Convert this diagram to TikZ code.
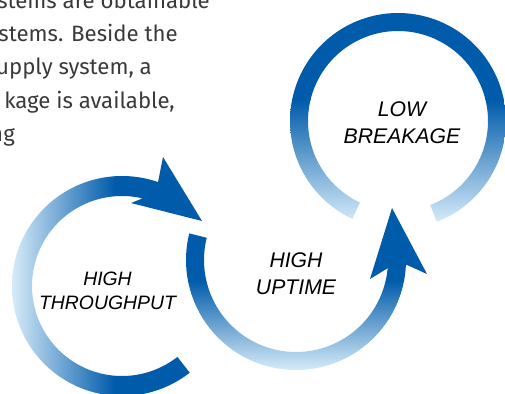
\documentclass[tikz,border=0pt]{standalone}
\usepackage{fontspec}
\setmainfont{Liberation Sans}
\newfontfamily\parafont{Fira Sans}
\definecolor{dk}{HTML}{005BAA}
\definecolor{lt}{HTML}{D6EBF9}
\definecolor{txt}{HTML}{3A3A3A}
\tikzset{
  para/.style={font=\parafont\fontsize{22.2}{26}\selectfont, text=txt, inner sep=0pt},
  lblsmall/.style={font=\itshape\fontsize{19.4}{24}\selectfont, align=center, inner sep=0pt, text=black},
  lblbig/.style={font=\itshape\fontsize{21.2}{27}\selectfont, align=center, inner sep=0pt, text=black},
  head/.style={fill=dk},
}
\begin{document}
\begin{tikzpicture}[x=1pt,y=-1pt]
\useasboundingbox (0,0) rectangle (505,393);
\clip (0,0) rectangle (505,393);

% paragraph fragments
\node[para, anchor=base east] (p1) at (210,8.3) {stems are obtainable};
\node[para, anchor=base east] (p2) at (178,41.7) {stems. Beside the};
\node[para, anchor=base east] (p3) at (152,75) {upply system, a};
\node[para, anchor=base east] (p4) at (175,108) {kage is available,};
\node[para, anchor=base east] (p5) at (15,141) {ng};

% ring 1 (HIGH THROUGHPUT)
\begin{scope}
\clip plot[domain=-290:-52,samples=120] ({122+110*cos(\x)},{286-110*sin(\x)})
  -- plot[domain=-52:-290,samples=120] ({122+90*cos(\x)},{286-90*sin(\x)}) -- cycle;
\fill[lt] (0,150) rectangle (12,400);
\shade[left color=lt,right color=dk] (12,150) rectangle (115,400);
\fill[dk] (115,150) rectangle (240,400);
\end{scope}
\fill[head] (202,221) -- (163,157) -- (158,182) -- (141,199) -- (131,203) -- cycle;

% ring 2 (HIGH UPTIME)
\begin{scope}
\clip plot[domain=166:360,samples=120] ({296+110*cos(\x)},{260-110*sin(\x)})
  -- plot[domain=360:166,samples=120] ({296+92*cos(\x)},{260-92*sin(\x)}) -- cycle;
\fill[dk] (180,140) rectangle (420,280);
\shade[top color=dk,bottom color=lt] (180,280) rectangle (420,370);
\fill[lt] (180,370) rectangle (420,380);
\end{scope}
\fill[head] (392,208) -- (427,274) -- (407,265) -- (388,268) -- (370,279) -- cycle;

% ring 3 (LOW BREAKAGE)
\begin{scope}
\clip plot[domain=-69:245,samples=150] ({398+108*cos(\x)},{121-108*sin(\x)})
  -- plot[domain=245:-69,samples=150] ({398+90*cos(\x)},{121-90*sin(\x)}) -- cycle;
\fill[dk] (280,0) rectangle (510,100);
\shade[top color=dk,bottom color=lt] (280,100) rectangle (510,222);
\fill[lt] (280,222) rectangle (510,240);
\end{scope}

% labels (anchor base = baseline of the last line)
\node[lblsmall, anchor=base] (t1) at (107.5,309) {HIGH\\THROUGHPUT};
\node[lblbig, anchor=base] (t2) at (296,294) {HIGH\\UPTIME};
\node[lblbig, anchor=base] (t3) at (402,143) {LOW\\BREAKAGE};
\end{tikzpicture}
\end{document}
